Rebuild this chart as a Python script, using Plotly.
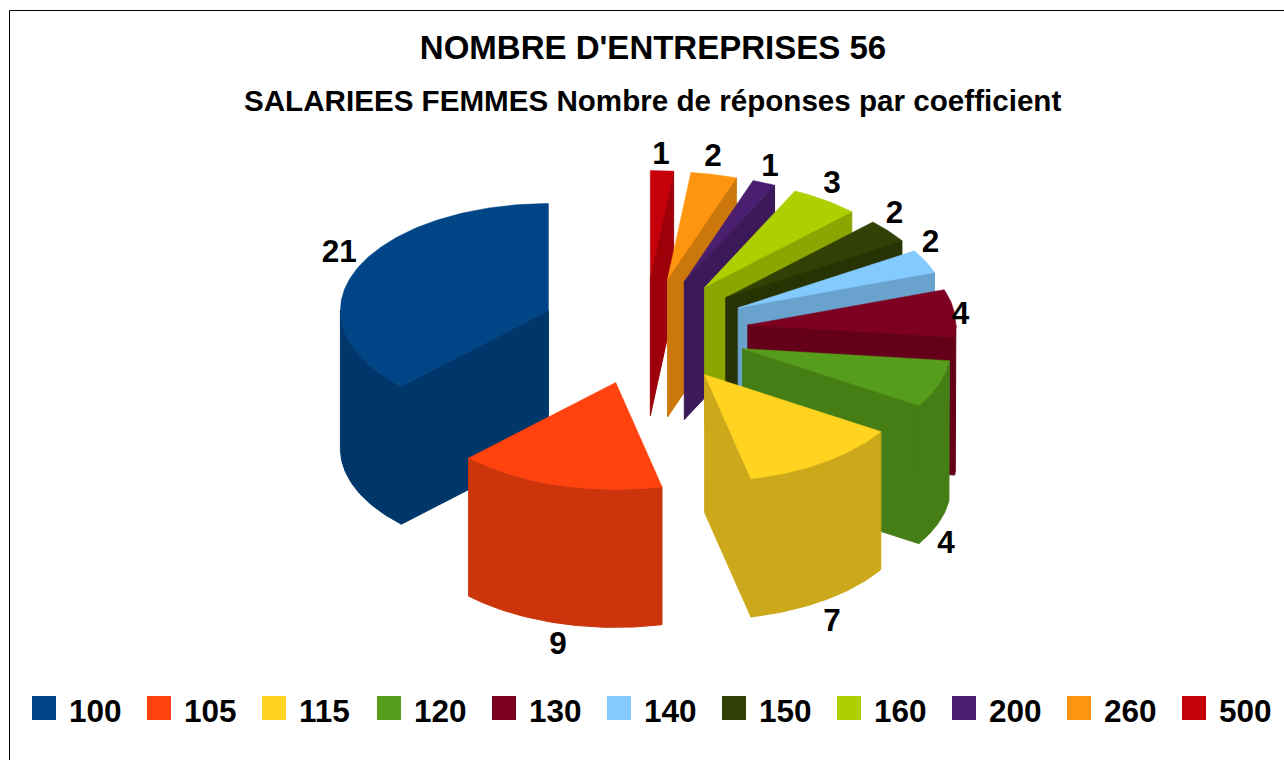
import math
import plotly.graph_objects as go

# Data
categories = ["100", "105", "115", "120", "130", "140", "150", "160", "200", "260", "500"]
responses = [21, 9, 7, 4, 4, 2, 2, 3, 1, 2, 1]
title_text = "NOMBRE D'ENTREPRISES 56"
subtitle_text = "SALARIEES FEMMES Nombre de réponses par coefficient"

# Style
colors = ["#004586", "#ff420e", "#ffd320", "#579d1c", "#7e0021", "#83caff",
          "#314004", "#aecf00", "#4b1f6f", "#ff950e", "#c5000b"]
draw_order = [10, 9, 8, 7, 6, 5, 4, 3, 2, 0, 1]
label_nudges = [(-17, -15), (0, 23), (7, 23), (7, 23), (6, 3), (5, -17),
                (6, -16), (7, -15), (6, -15), (-1, -16), (-1, -15)]

# Projection of the exploded pie on the page
CX, CY, RX, RY, DEPTH, EXPLODE = 644.5, 331, 208, 107, 138, 104
SHADE = 0.8


def shade(hex_color, f=SHADE):
    r, g, b = (int(hex_color[i:i + 2], 16) for i in (1, 3, 5))
    return f"rgb({r * f:.0f},{g * f:.0f},{b * f:.0f})"


def rim(ax, ay, deg):
    a = math.radians(deg)
    return ax + RX * math.cos(a), ay - RY * math.sin(a)


def arc(ax, ay, a0, a1, step=1.0):
    n = max(2, int(abs(a1 - a0) / step) + 1)
    return [rim(ax, ay, a0 + (a1 - a0) * i / (n - 1)) for i in range(n)]


def face(points, color, width=0.5):
    xs = [p[0] for p in points] + [points[0][0]]
    ys = [p[1] for p in points] + [points[0][1]]
    return go.Scatter(x=xs, y=ys, mode="lines", fill="toself", fillcolor=color,
                      line=dict(width=width, color=color), hoverinfo="skip",
                      showlegend=False)


total = sum(responses)
spans = []
start = 90.0
for v in responses:
    end = start + v * 360.0 / total
    spans.append((start, end))
    start = end

fig = go.Figure()
label_x, label_y = [], []
for i in draw_order:
    a0, a1 = spans[i]
    mid = math.radians((a0 + a1) / 2)
    ax = CX + EXPLODE * math.cos(mid)
    ay = CY - EXPLODE * (RY / RX) * math.sin(mid)
    col = colors[i]
    dark = shade(col)
    # radial cut walls
    for edge, normal in ((a0, a0 - 90), (a1, a1 + 90)):
        if math.sin(math.radians(normal)) < -1e-6:
            px, py = rim(ax, ay, edge)
            fig.add_trace(face([(ax, ay), (px, py), (px, py + DEPTH), (ax, ay + DEPTH)], dark, 1))
    # outer wall: the part of the arc facing the viewer
    for lo, hi in ((180, 360), (540, 720)):
        s, e = max(a0, lo), min(a1, hi)
        if e > s:
            top = arc(ax, ay, s, e)
            bottom = [(x, y + DEPTH) for x, y in reversed(top)]
            fig.add_trace(face(top + bottom, dark, 1))
    # top face
    fig.add_trace(face([(ax, ay)] + arc(ax, ay, a0, a1), col))

for i, (a0, a1) in enumerate(spans):
    mid = (a0 + a1) / 2
    mr = math.radians(mid)
    ax = CX + EXPLODE * math.cos(mr)
    ay = CY - EXPLODE * (RY / RX) * math.sin(mr)
    x, y = rim(ax, ay, mid)
    if math.sin(mr) < 0:
        y += DEPTH
    label_x.append(x + label_nudges[i][0])
    label_y.append(y + label_nudges[i][1])

LABEL_FONT = dict(family="Liberation Sans", size=31.5, color="black", weight=700)

fig.add_trace(go.Scatter(x=label_x, y=label_y, mode="text",
                         text=[str(v) for v in responses],
                         textposition="middle center", textfont=LABEL_FONT,
                         hoverinfo="skip", showlegend=False))

# Legend row
LEG_X0, LEG_STEP, LEG_Y = 44, 115, 708
fig.add_trace(go.Scatter(x=[LEG_X0 + LEG_STEP * i for i in range(len(categories))],
                         y=[LEG_Y] * len(categories), mode="markers",
                         marker=dict(symbol="square", size=24, color=colors,
                                     line=dict(width=0)),
                         hoverinfo="skip", showlegend=False))
fig.add_trace(go.Scatter(x=[LEG_X0 + 25 + LEG_STEP * i for i in range(len(categories))],
                         y=[LEG_Y + 6] * len(categories), mode="text", text=categories,
                         textposition="middle right", textfont=LABEL_FONT,
                         hoverinfo="skip", showlegend=False))

fig.update_layout(
    width=1284, height=760, margin=dict(l=0, r=0, t=0, b=0),
    paper_bgcolor="white", plot_bgcolor="white", showlegend=False,
    title=dict(text=f"<b>{title_text}</b>", x=653 / 1284, xanchor="center",
               y=1 - 47 / 760, yanchor="middle",
               font=dict(family="Liberation Sans", size=33, color="black")),
    xaxis=dict(range=[0, 1284], visible=False, fixedrange=True),
    yaxis=dict(range=[760, 0], visible=False, fixedrange=True),
    annotations=[dict(text=f"<b>{subtitle_text}</b>", x=652.5, y=100, xref="x", yref="y",
                      showarrow=False,
                      font=dict(family="Liberation Sans", size=29.6, color="black"))],
    shapes=[
        dict(type="line", x0=9.5, x1=9.5, y0=10.5, y1=760, xref="x", yref="y",
             line=dict(color="black", width=1)),
        dict(type="line", x0=9.5, x1=1284, y0=10.5, y1=10.5, xref="x", yref="y",
             line=dict(color="black", width=1)),
    ],
)

fig.write_html("out.html", post_script="document.body.style.margin='0';document.body.style.overflow='hidden';",
               config=dict(displayModeBar=False))
